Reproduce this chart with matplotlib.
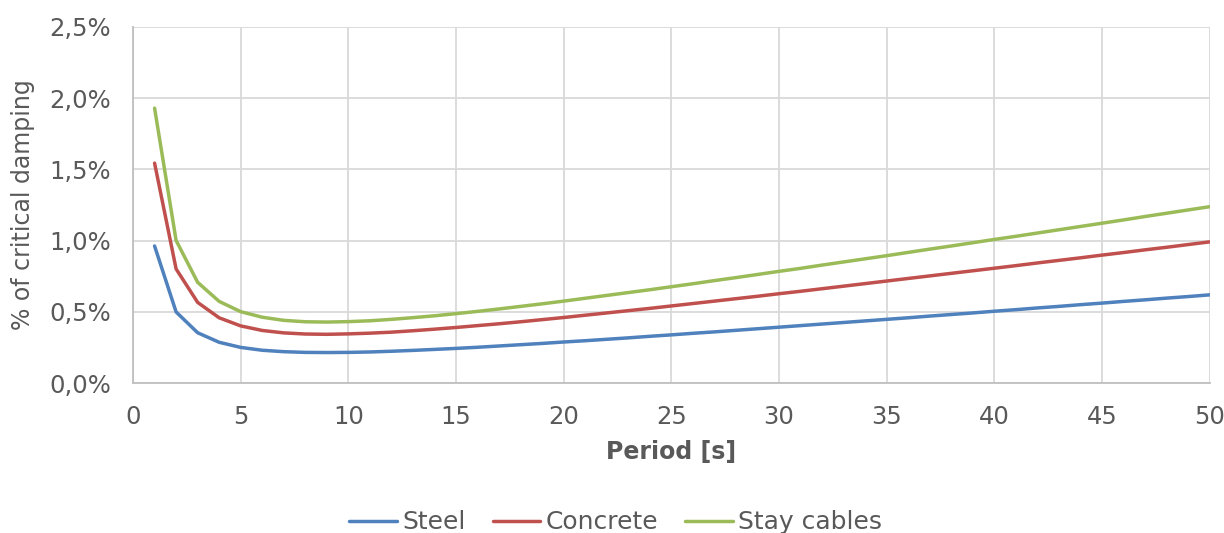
import matplotlib
matplotlib.use("Agg")
import matplotlib.pyplot as plt
from matplotlib.ticker import FuncFormatter, MultipleLocator

# period [s]
period = list(range(1, 51))

# % of critical damping
steel = [0.962, 0.499, 0.353, 0.286, 0.250, 0.230, 0.220, 0.215, 0.214, 0.215,
         0.218, 0.223, 0.229, 0.236, 0.243, 0.251, 0.260, 0.269, 0.278, 0.288,
         0.297, 0.307, 0.317, 0.328, 0.338, 0.349, 0.359, 0.370, 0.381, 0.392,
         0.403, 0.414, 0.425, 0.436, 0.447, 0.458, 0.470, 0.481, 0.492, 0.504,
         0.515, 0.527, 0.538, 0.550, 0.561, 0.573, 0.584, 0.596, 0.607, 0.619]
concrete = [1.544, 0.801, 0.566, 0.458, 0.401, 0.369, 0.352, 0.344, 0.342, 0.345,
            0.350, 0.357, 0.367, 0.378, 0.390, 0.403, 0.416, 0.430, 0.445, 0.460,
            0.476, 0.492, 0.508, 0.524, 0.541, 0.558, 0.575, 0.592, 0.609, 0.627,
            0.644, 0.662, 0.680, 0.698, 0.716, 0.734, 0.752, 0.770, 0.788, 0.806,
            0.824, 0.843, 0.861, 0.879, 0.898, 0.916, 0.935, 0.953, 0.972, 0.991]
stay_cables = [1.930, 1.001, 0.707, 0.573, 0.501, 0.462, 0.440, 0.430, 0.428, 0.431,
               0.437, 0.447, 0.459, 0.472, 0.487, 0.503, 0.520, 0.538, 0.556, 0.575,
               0.595, 0.615, 0.635, 0.655, 0.676, 0.697, 0.719, 0.740, 0.762, 0.784,
               0.805, 0.828, 0.850, 0.872, 0.894, 0.917, 0.940, 0.962, 0.985, 1.008,
               1.030, 1.053, 1.076, 1.099, 1.122, 1.145, 1.169, 1.192, 1.215, 1.238]

series = [("Steel", steel, "#4F81BD"),
          ("Concrete", concrete, "#C0504D"),
          ("Stay cables", stay_cables, "#9BBB59")]

txt = "#595959"
plt.rcParams["font.family"] = ["DejaVu Sans"]

fig = plt.figure(figsize=(12.24, 5.33), dpi=100)
ax = fig.add_axes([0.1087, 0.2814, 0.8795, 0.668])

for name, vals, col in series:
    ax.plot(period, vals, color=col, lw=2.5, label=name, solid_capstyle="round")

ax.set_xlim(0, 50)
ax.set_ylim(0, 2.5)
ax.xaxis.set_major_locator(MultipleLocator(5))
ax.yaxis.set_major_locator(MultipleLocator(0.5))
ax.yaxis.set_major_formatter(FuncFormatter(lambda v, p: f"{v:.1f}%".replace(".", ",")))

ax.grid(True, color="#D9D9D9", lw=1.3)
ax.set_axisbelow(True)
for s in ["top", "right"]:
    ax.spines[s].set_visible(False)
for s in ["left", "bottom"]:
    ax.spines[s].set_color("#BFBFBF")
    ax.spines[s].set_linewidth(1.3)
ax.tick_params(length=0, labelsize=17.5, colors=txt)
ax.tick_params(axis="y", pad=16)
ax.tick_params(axis="x", pad=16)

ax.set_xlabel("Period [s]", fontsize=17, fontweight="bold", color=txt, labelpad=8)
ax.set_ylabel("% of critical damping", fontsize=17, color=txt, labelpad=10)

leg = fig.legend(loc="lower center", bbox_to_anchor=(0.503, -0.045), ncol=3,
                 frameon=False, fontsize=18, handlelength=1.9,
                 handletextpad=0.2, columnspacing=1.1)
for t in leg.get_texts():
    t.set_color(txt)

fig.savefig("out.png", dpi=100)
